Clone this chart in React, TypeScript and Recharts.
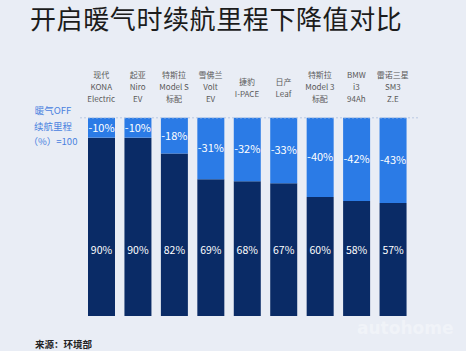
import { BarChart, Bar, XAxis, YAxis, ReferenceLine, LabelList } from "recharts";

const categories = [
  "现代\nKONA\nElectric",
  "起亚\nNiro\nEV",
  "特斯拉\nModel S\n标配",
  "雪佛兰\nVolt\nEV",
  "捷豹\nI-PACE",
  "日产\nLeaf",
  "特斯拉\nModel 3\n标配",
  "BMW\ni3\n94Ah",
  "雷诺三星\nSM3\nZ.E",
];
const remaining = [90, 90, 82, 69, 68, 67, 60, 58, 57];
const drops = [10, 10, 18, 31, 32, 33, 40, 42, 43];

const data = categories.map((name, i) => ({
  name,
  remain: remaining[i],
  drop: drops[i],
}));

const FONT = "'Noto Sans CJK SC', 'Noto Sans', sans-serif";
const DARK = "#0a2b66";
const LIGHT = "#2b7be6";

function CategoryTick(props: any) {
  const { x, y, payload } = props;
  const lines = String(payload.value).split("\n");
  const start = lines.length === 3 ? -20 : -13;
  return (
    <g>
      {lines.map((l, i) => (
        <text
          key={i}
          x={x}
          y={y + start + i * 12}
          textAnchor="middle"
          fontSize={8}
          fill="#5a5a5a"
          fontFamily={FONT}
        >
          {l}
        </text>
      ))}
    </g>
  );
}

function RemainLabel(props: any) {
  const { x, y, width, height, value } = props;
  return (
    <text
      x={x + width / 2}
      y={y + height - 67}
      textAnchor="middle"
      dominantBaseline="central"
      fontSize={10.5}
      fill="#fff"
      fontFamily={FONT}
    >
      {value}%
    </text>
  );
}

export default function App() {
  return (
    <div
      style={{
        position: "absolute",
        left: 0,
        top: 0,
        width: 466,
        height: 351,
        background: "#e9edf5",
        fontFamily: FONT,
        overflow: "hidden",
      }}
    >
      <div
        style={{
          position: "absolute",
          left: 30,
          top: 3,
          width: 420,
          fontSize: 26,
          letterSpacing: 0.6,
          color: "#1c1c1c",
          lineHeight: "30px",
          whiteSpace: "nowrap",
        }}
      >
        开启暖气时续航里程下降值对比
      </div>
      <div
        style={{
          position: "absolute",
          left: 23,
          top: 103,
          width: 60,
          textAlign: "center",
          fontSize: 9.5,
          lineHeight: "15.5px",
          color: "#4a82e0",
        }}
      >
        暖气OFF
        <br />
        续航里程
        <br />
        （%）=100
      </div>
      <BarChart
        width={466}
        height={351}
        data={data}
        margin={{ top: 58, right: 48, bottom: 35, left: 80 }}
        style={{ position: "absolute", left: 0, top: 0 }}
      >
        <XAxis
          xAxisId="top"
          dataKey="name"
          orientation="top"
          height={40}
          axisLine={false}
          tickLine={false}
          tickSize={0}
          tickMargin={0}
          interval={0}
          padding={{ left: 3, right: 7 }}
          tick={<CategoryTick />}
        />
        <XAxis
          dataKey="name"
          height={0}
          tick={false}
          tickLine={false}
          axisLine={{ stroke: "#c9d0db" }}
          padding={{ left: 3, right: 7 }}
        />
        <YAxis
          domain={[0, 110]}
          width={0}
          tick={false}
          tickLine={false}
          axisLine={{ stroke: "#d6dce6" }}
        />
        <Bar dataKey="remain" stackId="a" fill={DARK} barSize={27} isAnimationActive={false}>
          <LabelList dataKey="remain" content={<RemainLabel />} />
        </Bar>
        <Bar dataKey="drop" stackId="a" fill={LIGHT} barSize={27} isAnimationActive={false}>
          <LabelList
            dataKey="drop"
            position="center"
            fill="#fff"
            fontSize={11}
            fontFamily={FONT}
            formatter={(v: any) => `-${v}%`}
          />
        </Bar>
        <ReferenceLine y={100} stroke="#b9c9e2" strokeDasharray="2 2" />
      </BarChart>
      <div
        style={{
          position: "absolute",
          left: 35,
          top: 337,
          fontSize: 9.5,
          fontWeight: 700,
          color: "#222",
          lineHeight: "14px",
        }}
      >
        来源：环境部
      </div>
      <div
        style={{
          position: "absolute",
          left: 357,
          top: 318,
          fontSize: 17,
          fontWeight: 700,
          color: "#ffffff",
          opacity: 0.35,
          fontFamily: "'DejaVu Sans', sans-serif",
        }}
      >
        autohome
      </div>
    </div>
  );
}
